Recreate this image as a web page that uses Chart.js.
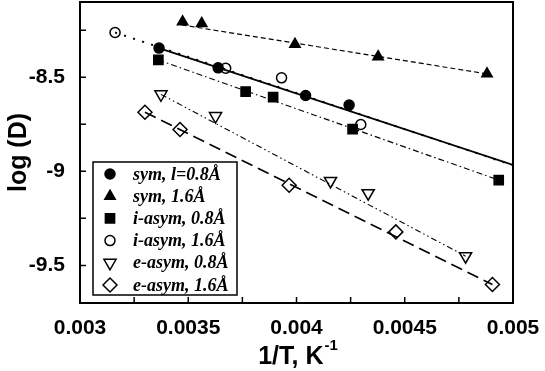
<!DOCTYPE html>
<html>
<head>
<meta charset="utf-8">
<script src="https://cdn.jsdelivr.net/npm/chart.js@4.4.1/dist/chart.umd.min.js"></script>
<style>
  html, body { margin: 0; padding: 0; background: #fff; }
</style>
</head>
<body>
<canvas id="chart" width="545" height="371"></canvas>
<script>
// tick positions on both axes
const xTicks = [0.003, 0.00325, 0.0035, 0.00375, 0.004, 0.00425, 0.0045, 0.00475, 0.005];
const yTicks = [-9.5, -9.25, -9, -8.75, -8.5, -8.25];

// measured points, x = 1/T (K^-1), y = log(D)
const symShortX = [0.003365, 0.003638, 0.004042, 0.004243];
const symShortY = [-8.345, -8.45, -8.597, -8.648];
const symLongX = [0.003474, 0.003562, 0.003993, 0.004377, 0.00488];
const symLongY = [-8.205, -8.214, -8.325, -8.391, -8.482];
const iShortX = [0.003362, 0.003765, 0.003892, 0.004259, 0.004934];
const iShortY = [-8.408, -8.576, -8.606, -8.776, -9.047];
const iLongX = [0.003162, 0.003673, 0.003931, 0.004297];
const iLongY = [-8.262, -8.452, -8.503, -8.751];
const eShortX = [0.003374, 0.003626, 0.004157, 0.004331, 0.004781];
const eShortY = [-8.591, -8.706, -9.051, -9.116, -9.451];
const eLongX = [0.0033, 0.003462, 0.003966, 0.004459, 0.004905];
const eLongY = [-8.686, -8.778, -9.074, -9.322, -9.602];

// linear fits (end points)
const fitSymShortX = [0.003365, 0.005], fitSymShortY = [-8.345, -8.966];
const fitILongX = [0.003162, 0.005], fitILongY = [-8.262, -8.968];
const fitSymLongX = [0.00347, 0.00488], fitSymLongY = [-8.222, -8.482];
const fitIShortX = [0.003362, 0.004934], fitIShortY = [-8.408, -9.047];
const fitEShortX = [0.003374, 0.004781], fitEShortY = [-8.591, -9.451];
const fitELongX = [0.0033, 0.004905], fitELongY = [-8.686, -9.602];

const labels = ['sym, l=0.8Å', 'sym, 1.6Å', 'i-asym, 0.8Å', 'i-asym, 1.6Å', 'e-asym, 0.8Å', 'e-asym, 1.6Å'];

const pts = (xs, ys) => xs.map((x, i) => ({ x, y: ys[i] }));
const CLEAR = 'rgba(0,0,0,0)';

const markers = [
  { style: 'circle', radius: 5, fill: '#000', rotation: 0 },
  { style: 'triangle', radius: 6, fill: '#000', rotation: 0 },
  { style: 'rect', radius: 6.5, fill: '#000', rotation: 0 },
  { style: 'circle', radius: 5, fill: CLEAR, rotation: 0 },
  { style: 'triangle', radius: 7, fill: CLEAR, rotation: 180 },
  { style: 'rectRot', radius: 7, fill: CLEAR, rotation: 0 }
];
const series = [
  pts(symShortX, symShortY), pts(symLongX, symLongY), pts(iShortX, iShortY),
  pts(iLongX, iLongY), pts(eShortX, eShortY), pts(eLongX, eLongY)
];

const pointSets = series.map((data, i) => ({
  label: labels[i],
  data,
  showLine: false,
  order: 0,
  pointStyle: markers[i].style,
  pointRadius: markers[i].radius,
  pointRotation: markers[i].rotation,
  pointBackgroundColor: markers[i].fill,
  pointBorderColor: '#000',
  pointBorderWidth: 1.5
}));

const fit = (xs, ys, dash, width) => ({
  data: pts(xs, ys),
  showLine: true,
  order: 1,
  pointRadius: 0,
  borderColor: '#000',
  borderWidth: width,
  borderDash: dash
});

const lineSets = [
  fit(fitSymShortX, fitSymShortY, [], 1.8),
  fit(fitILongX, fitILongY, [2, 7.5], 2),
  fit(fitSymLongX, fitSymLongY, [5, 3], 1.2),
  fit(fitIShortX, fitIShortY, [6, 3, 1.5, 3], 1.1),
  fit(fitEShortX, fitEShortY, [6, 3, 1.5, 3, 1.5, 3], 1.1),
  fit(fitELongX, fitELongY, [12, 6], 1.6)
];

const decor = {
  id: 'decor',
  afterDraw(chart) {
    const { ctx, chartArea: a, scales: { x, y } } = chart;
    ctx.save();
    ctx.strokeStyle = '#000';
    ctx.lineWidth = 1.5;
    ctx.beginPath();
    xTicks.forEach(v => {
      const px = x.getPixelForValue(v);
      ctx.moveTo(px, a.bottom);
      ctx.lineTo(px, a.bottom - 6);
    });
    yTicks.forEach(v => {
      const py = y.getPixelForValue(v);
      ctx.moveTo(a.left, py);
      ctx.lineTo(a.left + 6, py);
    });
    ctx.stroke();
    ctx.lineWidth = 2;
    ctx.strokeRect(a.left, a.top, a.right - a.left, a.bottom - a.top);

    // legend box
    ctx.fillStyle = '#fff';
    ctx.fillRect(93, 162, 144, 133);
    ctx.lineWidth = 1.5;
    ctx.strokeRect(93, 162, 144, 133);
    ctx.font = 'italic bold 18px "Liberation Serif"';
    ctx.textBaseline = 'middle';
    labels.forEach((t, i) => {
      const ly = 174 + i * 22.2;
      const m = markers[i];
      ctx.fillStyle = m.fill;
      ctx.strokeStyle = '#000';
      ctx.lineWidth = 1.5;
      Chart.helpers.drawPoint(ctx, { pointStyle: m.style, radius: m.radius, rotation: m.rotation, borderWidth: 1.5 }, 110, ly);
      ctx.fillStyle = '#000';
      ctx.fillText(t, 133, ly + 1);
    });

    // x axis title with superscript
    const main = '1/T, K', sup = '-1';
    ctx.font = 'bold 25px "Liberation Sans"';
    const w1 = ctx.measureText(main).width;
    ctx.font = 'bold 15px "Liberation Sans"';
    const w2 = ctx.measureText(sup).width;
    const x0 = 298 - (w1 + w2 + 1) / 2;
    ctx.textBaseline = 'alphabetic';
    ctx.font = 'bold 25px "Liberation Sans"';
    ctx.fillText(main, x0, 364);
    ctx.font = 'bold 15px "Liberation Sans"';
    ctx.fillText(sup, x0 + w1 + 1, 350);
    ctx.restore();
  }
};

new Chart(document.getElementById('chart'), {
  type: 'scatter',
  data: { datasets: [...pointSets, ...lineSets] },
  options: {
    responsive: false,
    animation: false,
    layout: { autoPadding: false, padding: { top: 2, right: 32, left: 0, bottom: 0 } },
    plugins: { legend: { display: false }, tooltip: { enabled: false } },
    scales: {
      x: {
        type: 'linear',
        min: 0.003,
        max: 0.005,
        grid: { display: false },
        border: { display: false },
        afterBuildTicks: s => { s.ticks = xTicks.map(v => ({ value: v })); },
        afterFit: s => { s.height = 68; s.paddingLeft = 0; s.paddingRight = 0; },
        ticks: {
          padding: 5,
          maxRotation: 0,
          autoSkip: false,
          color: '#000',
          font: { family: 'Liberation Sans', size: 21, weight: 'bold' },
          callback: v => (Math.abs(v * 2000 - Math.round(v * 2000)) < 1e-6 ? String(+v.toFixed(4)) : '')
        }
      },
      y: {
        type: 'linear',
        min: -9.7,
        max: -8.1,
        grid: { display: false },
        border: { display: false },
        afterBuildTicks: s => { s.ticks = yTicks.map(v => ({ value: v })); },
        afterFit: s => { s.width = 80; s.paddingTop = 0; s.paddingBottom = 0; },
        title: {
          display: true,
          text: 'log (D)',
          color: '#000',
          padding: { top: 4, bottom: 0 },
          font: { family: 'Liberation Sans', size: 25, weight: 'bold' }
        },
        ticks: {
          padding: 7,
          autoSkip: false,
          color: '#000',
          font: { family: 'Liberation Sans', size: 21, weight: 'bold' },
          callback: v => (Math.abs(v * 2 - Math.round(v * 2)) < 1e-6 ? String(v) : '')
        }
      }
    }
  },
  plugins: [decor]
});
</script>
</body>
</html>
